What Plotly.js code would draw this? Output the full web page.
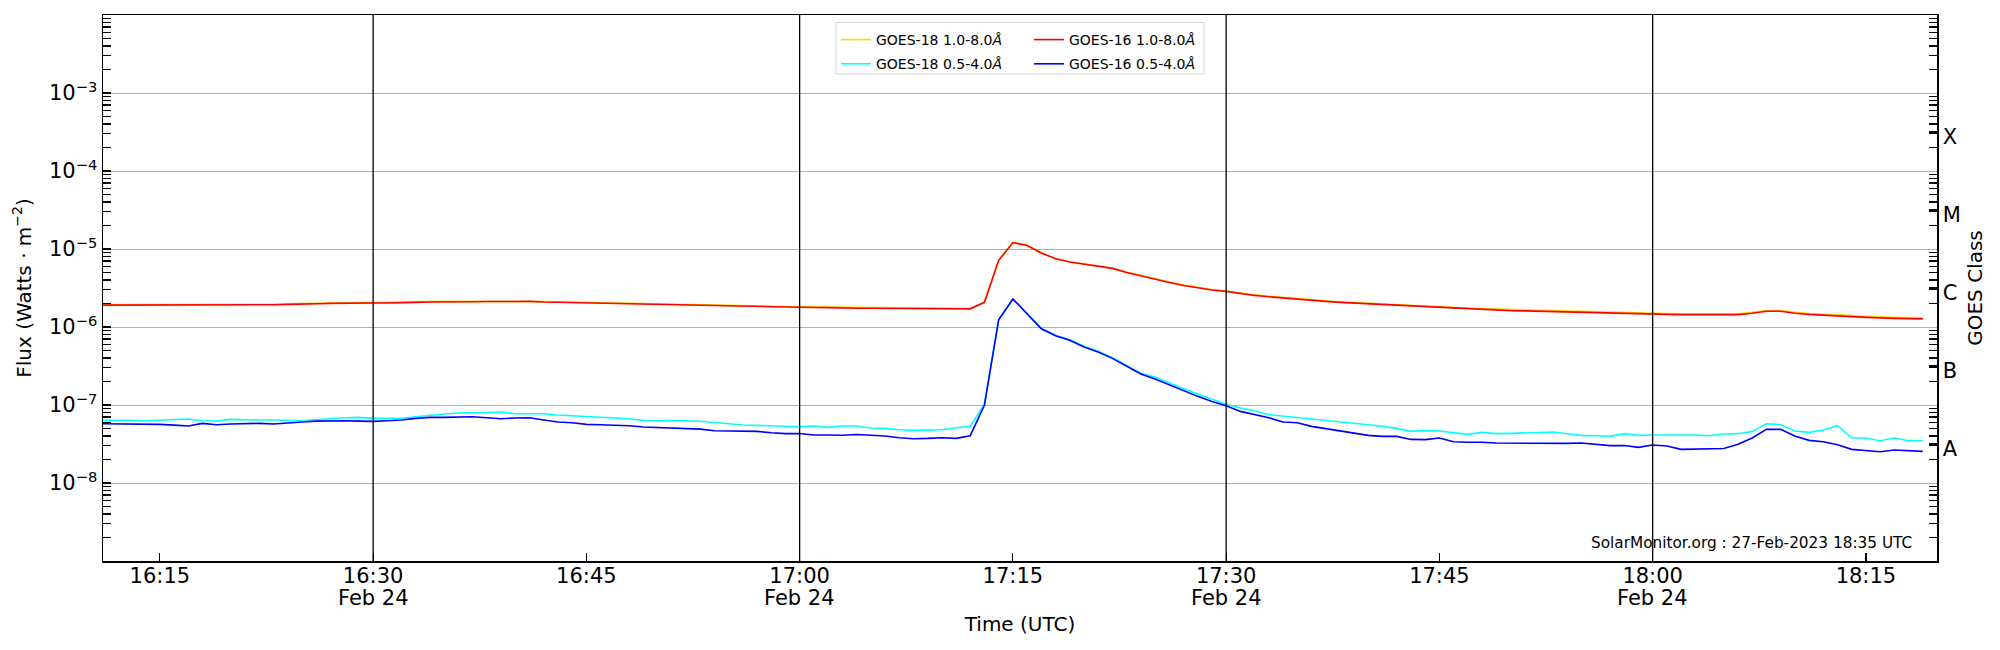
<!DOCTYPE html>
<html>
<head>
<meta charset="utf-8">
<script src="https://cdn.plot.ly/plotly-3.0.1.min.js"></script>
<style>
html,body{margin:0;padding:0;background:#fff;}
#chart{width:2000px;height:650px;}
</style>
</head>
<body>
<div id="chart"></div>
<script>
// ---- Data (1-minute cadence, starting 2023-02-24 16:11 UTC) ----
const obsDay = '2023-02-24';
const startMinute = 16 * 60 + 11;

// GOES-18 1.0-8.0 Å (W m^-2)
const goes18Long = [
1.94e-6,1.94e-6,1.92e-6,1.92e-6,1.92e-6,1.92e-6,1.92e-6,1.93e-6,1.93e-6,
1.94e-6,1.94e-6,1.96e-6,1.96e-6,1.98e-6,1.99e-6,2.02e-6,2.04e-6,2.06e-6,2.06e-6,
2.06e-6,2.06e-6,2.07e-6,2.10e-6,2.12e-6,2.14e-6,2.14e-6,2.14e-6,2.15e-6,2.16e-6,
2.16e-6,2.16e-6,2.12e-6,2.10e-6,2.08e-6,2.06e-6,2.04e-6,2.02e-6,2.00e-6,1.98e-6,
1.98e-6,1.96e-6,1.94e-6,1.94e-6,1.92e-6,1.91e-6,1.89e-6,1.87e-6,1.85e-6,1.83e-6,
1.81e-6,1.81e-6,1.80e-6,1.77e-6,1.76e-6,1.76e-6,1.75e-6,1.75e-6,1.74e-6,1.74e-6,
1.74e-6,1.74e-6,1.73e-6,2.08e-6,7.10e-6,1.20e-5,1.11e-5,8.90e-6,7.55e-6,6.85e-6,
6.45e-6,6.15e-6,5.68e-6,5.05e-6,4.55e-6,4.12e-6,3.77e-6,3.45e-6,3.20e-6,3.02e-6,
2.90e-6,2.71e-6,2.58e-6,2.48e-6,2.39e-6,2.31e-6,2.24e-6,2.17e-6,2.11e-6,2.06e-6,
2.01e-6,1.97e-6,1.93e-6,1.88e-6,1.84e-6,1.80e-6,1.77e-6,1.74e-6,1.72e-6,1.69e-6,
1.66e-6,1.64e-6,1.63e-6,1.61e-6,1.60e-6,1.58e-6,1.56e-6,1.55e-6,1.54e-6,1.52e-6,
1.51e-6,1.49e-6,1.48e-6,1.48e-6,1.48e-6,1.46e-6,1.48e-6,1.54e-6,1.63e-6,1.63e-6,
1.54e-6,1.49e-6,1.45e-6,1.42e-6,1.40e-6,1.37e-6,1.34e-6,1.33e-6,1.32e-6,1.31e-6
];

// GOES-18 0.5-4.0 Å (W m^-2)
const goes18Short = [
6.35e-8,6.42e-8,6.35e-8,6.29e-8,6.35e-8,6.42e-8,6.61e-8,6.29e-8,6.22e-8,
6.54e-8,6.42e-8,6.42e-8,6.42e-8,6.42e-8,6.29e-8,6.48e-8,6.74e-8,6.87e-8,6.94e-8,
6.74e-8,6.74e-8,6.74e-8,7.08e-8,7.44e-8,7.66e-8,7.88e-8,7.96e-8,8.05e-8,8.13e-8,
7.73e-8,7.73e-8,7.73e-8,7.43e-8,7.29e-8,7.15e-8,6.94e-8,6.87e-8,6.67e-8,6.35e-8,
6.35e-8,6.35e-8,6.25e-8,6.20e-8,5.93e-8,5.70e-8,5.53e-8,5.48e-8,5.43e-8,5.32e-8,
5.27e-8,5.37e-8,5.17e-8,5.37e-8,5.37e-8,5.07e-8,5.02e-8,4.82e-8,4.73e-8,4.77e-8,
4.82e-8,5.12e-8,5.32e-8,1.03e-7,1.24e-6,2.29e-6,1.50e-6,9.60e-7,7.85e-7,6.85e-7,
5.65e-7,4.90e-7,4.05e-7,3.22e-7,2.55e-7,2.28e-7,1.91e-7,1.62e-7,1.38e-7,1.19e-7,
1.02e-7,9.15e-8,8.45e-8,7.51e-8,7.22e-8,6.94e-8,6.61e-8,6.35e-8,6.11e-8,5.87e-8,
5.59e-8,5.32e-8,5.02e-8,4.59e-8,4.69e-8,4.64e-8,4.37e-8,4.20e-8,4.46e-8,4.29e-8,
4.33e-8,4.41e-8,4.46e-8,4.50e-8,4.29e-8,4.08e-8,4.04e-8,3.96e-8,4.29e-8,4.08e-8,
4.12e-8,4.08e-8,4.12e-8,4.12e-8,4.04e-8,4.25e-8,4.29e-8,4.59e-8,5.75e-8,5.59e-8,
4.64e-8,4.46e-8,4.78e-8,5.43e-8,3.77e-8,3.77e-8,3.48e-8,3.77e-8,3.48e-8,3.48e-8
];

// GOES-16 1.0-8.0 Å (W m^-2)
const goes16Long = [
1.91e-6,1.91e-6,1.89e-6,1.89e-6,1.89e-6,1.89e-6,1.89e-6,1.89e-6,1.89e-6,
1.91e-6,1.91e-6,1.93e-6,1.93e-6,1.95e-6,1.95e-6,1.99e-6,2.01e-6,2.03e-6,2.03e-6,
2.03e-6,2.03e-6,2.03e-6,2.07e-6,2.09e-6,2.11e-6,2.11e-6,2.11e-6,2.12e-6,2.13e-6,
2.13e-6,2.13e-6,2.09e-6,2.07e-6,2.05e-6,2.03e-6,2.01e-6,1.99e-6,1.97e-6,1.95e-6,
1.95e-6,1.93e-6,1.91e-6,1.91e-6,1.89e-6,1.875e-6,1.86e-6,1.84e-6,1.82e-6,1.80e-6,
1.78e-6,1.78e-6,1.77e-6,1.74e-6,1.74e-6,1.74e-6,1.73e-6,1.73e-6,1.72e-6,1.72e-6,
1.72e-6,1.72e-6,1.71e-6,2.07e-6,7.15e-6,1.21e-5,1.11e-5,8.89e-6,7.51e-6,6.81e-6,
6.42e-6,6.11e-6,5.64e-6,5.01e-6,4.51e-6,4.08e-6,3.73e-6,3.41e-6,3.16e-6,2.98e-6,
2.86e-6,2.67e-6,2.54e-6,2.44e-6,2.35e-6,2.28e-6,2.20e-6,2.13e-6,2.07e-6,2.03e-6,
1.97e-6,1.93e-6,1.89e-6,1.84e-6,1.80e-6,1.77e-6,1.73e-6,1.70e-6,1.69e-6,1.65e-6,
1.62e-6,1.61e-6,1.59e-6,1.57e-6,1.56e-6,1.54e-6,1.52e-6,1.51e-6,1.50e-6,1.48e-6,
1.47e-6,1.45e-6,1.44e-6,1.44e-6,1.44e-6,1.42e-6,1.44e-6,1.50e-6,1.59e-6,1.59e-6,
1.50e-6,1.45e-6,1.41e-6,1.38e-6,1.36e-6,1.33e-6,1.30e-6,1.29e-6,1.28e-6,1.27e-6
];

// GOES-16 0.5-4.0 Å (W m^-2)
const goes16Short = [
5.75e-8,5.75e-8,5.70e-8,5.64e-8,5.64e-8,5.52e-8,5.38e-8,5.82e-8,5.58e-8,
5.70e-8,5.75e-8,5.82e-8,5.70e-8,5.82e-8,6.05e-8,6.22e-8,6.29e-8,6.29e-8,6.22e-8,
6.17e-8,6.29e-8,6.42e-8,6.74e-8,6.94e-8,6.94e-8,6.94e-8,7.08e-8,6.87e-8,6.67e-8,
6.80e-8,6.87e-8,6.42e-8,6.05e-8,5.93e-8,5.64e-8,5.58e-8,5.52e-8,5.43e-8,5.22e-8,
5.12e-8,5.02e-8,4.95e-8,4.90e-8,4.68e-8,4.68e-8,4.68e-8,4.59e-8,4.41e-8,4.29e-8,
4.32e-8,4.12e-8,4.12e-8,4.10e-8,4.18e-8,4.12e-8,4.00e-8,3.80e-8,3.69e-8,3.73e-8,
3.81e-8,3.73e-8,4.04e-8,1.00e-7,1.24e-6,2.29e-6,1.48e-6,9.50e-7,7.73e-7,6.74e-7,
5.54e-7,4.78e-7,3.96e-7,3.13e-7,2.50e-7,2.16e-7,1.81e-7,1.52e-7,1.29e-7,1.11e-7,
9.80e-8,8.28e-8,7.59e-8,6.87e-8,6.05e-8,5.93e-8,5.32e-8,4.97e-8,4.69e-8,4.29e-8,
4.08e-8,3.96e-8,3.96e-8,3.62e-8,3.60e-8,3.77e-8,3.38e-8,3.33e-8,3.33e-8,3.25e-8,
3.23e-8,3.21e-8,3.19e-8,3.19e-8,3.22e-8,3.25e-8,3.13e-8,3.01e-8,3.03e-8,2.86e-8,
3.07e-8,2.98e-8,2.70e-8,2.72e-8,2.75e-8,2.77e-8,3.13e-8,3.77e-8,4.87e-8,4.87e-8,
4.00e-8,3.52e-8,3.38e-8,3.10e-8,2.70e-8,2.60e-8,2.52e-8,2.65e-8,2.60e-8,2.54e-8
];

const seriesNames = ['GOES-18 1.0-8.0<i>Å</i>', 'GOES-18 0.5-4.0<i>Å</i>',
                     'GOES-16 1.0-8.0<i>Å</i>', 'GOES-16 0.5-4.0<i>Å</i>'];
const seriesColors = ['#FFD700', '#00FFFF', '#FF0000', '#0000FF'];

const xTickTimes = ['16:15','16:30','16:45','17:00','17:15','17:30','17:45','18:00','18:15'];
const xTickText  = ['16:15','16:30','16:45','17:00','17:15','17:30','17:45','18:00','18:15'];
const dateLabelTimes = ['16:30','17:00','17:30','18:00'];
const dateLabelText = 'Feb 24';
const vLineTimes = ['16:30','17:00','17:30','18:00'];
const xRange = ['16:11','18:20'];

const decadeExps = [-8,-7,-6,-5,-4,-3];
const classLabels = ['A','B','C','M','X'];
const classExps = [-7.5,-6.5,-5.5,-4.5,-3.5];
const creditText = 'SolarMonitor.org : 27-Feb-2023 18:35 UTC';

// ---- Build ----
function stampFromMinute(m){
  const h = Math.floor(m/60), mm = m % 60;
  return obsDay + ' ' + String(h).padStart(2,'0') + ':' + String(mm).padStart(2,'0') + ':00';
}
function stamp(hhmm){ return obsDay + ' ' + hhmm + ':00'; }
const times = goes16Long.map((_, i) => stampFromMinute(startMinute + i));

const W = 2000, H = 650, L = 103, R = 63, T = 15, B = 89;
const pw = W - L - R, ph = H - T - B;
const fx = px => (px - L) / pw;
const fy = py => (H - B - py) / ph;

const minorVals = [];
for (let k = -9; k <= -3; k++) for (let m = 2; m <= 9; m++) minorVals.push(m * Math.pow(10, k));

const seriesData = [goes18Long, goes18Short, goes16Long, goes16Short];
const legendOf = ['legend', 'legend', 'legend2', 'legend2'];
const traces = seriesData.map((ys, i) => ({
  type: 'scatter', mode: 'lines', x: times, y: ys, name: seriesNames[i],
  line: {color: seriesColors[i], width: 1.6}, legend: legendOf[i],
  legendgroup: 'g' + i, hoverinfo: 'x+y'
}));
traces.push({type:'scatter', mode:'lines', x: [], y: [], yaxis: 'y2', showlegend: false, hoverinfo: 'skip'});

const font = 'DejaVu Sans, Liberation Sans, sans-serif';
const layout = {
  width: W, height: H,
  margin: {l: L, r: R, t: T, b: B, pad: 0},
  paper_bgcolor: '#ffffff', plot_bgcolor: '#ffffff',
  font: {family: font, size: 20, color: '#000'},
  showlegend: true,
  xaxis: {
    type: 'date', range: xRange.map(stamp), automargin: false,
    tickmode: 'array', tickvals: xTickTimes.map(stamp), ticktext: xTickText,
    ticks: 'inside', ticklen: 8, tickwidth: 1.2, tickcolor: '#000',
    tickfont: {size: 21, family: font}, ticklabelstandoff: -5,
    showgrid: false, zeroline: false,
    showline: true, linecolor: '#000', linewidth: 1.5, mirror: true,
    title: {text: 'Time (UTC)', font: {size: 20, family: font}, standoff: 30}
  },
  yaxis: {
    type: 'log', range: [-9, -2], automargin: false,
    tickmode: 'array', tickvals: decadeExps.map(e => Math.pow(10, e)),
    ticktext: decadeExps.map(e => '10<sup>−' + Math.abs(e) + '</sup>'),
    ticks: 'inside', ticklen: 8, tickwidth: 1.2, tickcolor: '#000',
    tickfont: {size: 21, family: font},
    showgrid: true, gridcolor: '#b0b0b0', gridwidth: 1, zeroline: false,
    showline: true, linecolor: '#000', linewidth: 1.5, mirror: true,
    minor: {tickmode: 'array', tickvals: minorVals, ticks: 'inside', ticklen: 8, tickwidth: 1.2, tickcolor: '#000', showgrid: false},
    title: {text: 'Flux (Watts · m<sup>−2</sup>)', font: {size: 20, family: font}, standoff: 12}
  },
  yaxis2: {
    type: 'log', range: [-9, -2], overlaying: 'y', side: 'right', anchor: 'x', automargin: false,
    tickmode: 'array', tickvals: classExps.map(e => Math.pow(10, e)), ticktext: classLabels,
    ticks: 'inside', ticklen: 8, tickwidth: 1.2, tickcolor: '#000',
    tickfont: {size: 21, family: font}, ticklabelshift: 5,
    showgrid: false, zeroline: false,
    showline: true, linecolor: '#000', linewidth: 1.5,
    minor: {tickmode: 'array', tickvals: minorVals, ticks: 'inside', ticklen: 8, tickwidth: 1.2, tickcolor: '#000', showgrid: false},
    title: {text: 'GOES Class', font: {size: 20, family: font}, standoff: 8}
  },
  legend: {
    x: fx(836), y: fy(24), xanchor: 'left', yanchor: 'top',
    bgcolor: 'rgba(0,0,0,0)', borderwidth: 0, font: {size: 14, family: font},
    traceorder: 'grouped', tracegroupgap: 3
  },
  legend2: {
    x: fx(1029), y: fy(24), xanchor: 'left', yanchor: 'top',
    bgcolor: 'rgba(0,0,0,0)', borderwidth: 0, font: {size: 14, family: font},
    traceorder: 'grouped', tracegroupgap: 3
  },
  shapes: vLineTimes.map(t => ({
    type: 'line', xref: 'x', yref: 'paper', x0: stamp(t), x1: stamp(t), y0: 0, y1: 1,
    line: {color: '#000', width: 1.3}, layer: 'above'
  })).concat([{
    type: 'rect', xref: 'paper', yref: 'paper',
    x0: fx(836), x1: fx(1204), y0: fy(74), y1: fy(22.5),
    line: {color: '#d4d4d4', width: 1}, fillcolor: 'rgba(255,255,255,0.8)', layer: 'above'
  }]),
  annotations: [{
    text: creditText, xref: 'paper', yref: 'paper', x: fx(1914), y: fy(543),
    xanchor: 'right', yanchor: 'middle', showarrow: false,
    font: {size: 15.3, family: font, color: '#000'}
  }].concat(dateLabelTimes.map(t => ({
    text: dateLabelText, xref: 'x', yref: 'paper', x: stamp(t), y: fy(597.5),
    xanchor: 'center', yanchor: 'middle', showarrow: false,
    font: {size: 21, family: font, color: '#000'}
  })))
};

Plotly.newPlot('chart', traces, layout, {staticPlot: true, displayModeBar: false});
</script>
</body>
</html>
